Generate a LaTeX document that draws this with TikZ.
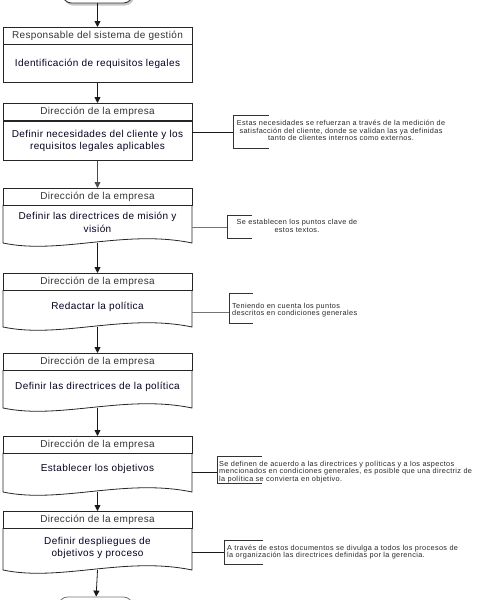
\documentclass[tikz,border=0pt]{standalone}
\usepackage{fontspec}
\setmainfont{Liberation Sans}
\newfontfamily\bodyfont[LetterSpace=4]{Liberation Sans}
\newfontfamily\hdrfont[LetterSpace=3.5]{Liberation Sans}
\newfontfamily\notefont[LetterSpace=5]{Liberation Sans}
\usetikzlibrary{arrows.meta}
\begin{document}
\begin{tikzpicture}[x=1pt,y=-1pt,
  boxline/.style={draw=black!85, line width=0.8pt},
  hdrbox/.style={boxline, minimum width=189pt, minimum height=17pt, anchor=north, inner sep=0pt,
     font=\hdrfont\fontsize{10}{11}\selectfont, text=black!80},
  bodytxt/.style={font=\bodyfont\fontsize{10}{12.8}\selectfont, align=center, text=black!85!blue, inner sep=0pt},
  notetxt/.style={font=\notefont\fontsize{7.3}{7.4}\selectfont, text=black!85, inner sep=0pt},
  flow/.style={-{Triangle[length=6pt,width=6pt]}, line width=0.8pt, draw=black!90},
  link/.style={line width=0.8pt, draw=black!90},
  bracket/.style={line width=0.8pt, draw=black!80},
  term/.style={rounded corners=9pt, minimum width=70pt, minimum height=24pt, inner sep=0pt},
]
\useasboundingbox (0,0) rectangle (481,600);

% start terminator (partially visible)
\fill[gray!45, rounded corners=9pt] (64,-20) rectangle (134,5.5);
\node[term, draw=black!80, fill=white, line width=0.8pt] (start) at (97.5,-9) {};

% ---------- Box 1
\node[hdrbox] (h1) at (97.5,27) {Responsable del sistema de gestión};
\node[boxline, minimum width=189pt, minimum height=38pt, anchor=north, bodytxt] (b1) at (97.5,44) {Identificación de requisitos legales};
\draw[flow] (start) -- (h1);

% ---------- Box 2
\node[hdrbox] (h2) at (97.5,103) {Dirección de la empresa};
\node[boxline, minimum width=189pt, minimum height=39pt, anchor=north, bodytxt] (b2) at (97.5,121) {Definir necesidades del cliente y los\\requisitos legales aplicables};
\draw[flow] (b1) -- (h2);

% ---------- Box 3
\node[hdrbox] (h3) at (97.5,188) {Dirección de la empresa};
\draw[boxline] (3,205) -- (3,243) .. controls (60,255) and (125,229) .. (192,243) -- (192,205);
\coordinate (w3) at (97.5,243);
\node[bodytxt] (b3) at (97.5,222.5) {Definir las directrices de misión y\\visión};
\draw[flow, draw=black!70] (b2) -- (h3);

% ---------- Box 4
\node[hdrbox] (h4) at (97.5,273) {Dirección de la empresa};
\draw[boxline] (3,290) -- (3,327) .. controls (60,339) and (125,313) .. (192,327) -- (192,290);
\coordinate (w4) at (97.5,327);
\node[bodytxt] (b4) at (97.5,307) {Redactar la política};
\draw[flow] (w3) -- (h4);

% ---------- Box 5
\node[hdrbox] (h5) at (97.5,353) {Dirección de la empresa};
\draw[boxline] (3,370) -- (3,408) .. controls (60,420) and (125,394) .. (192,408) -- (192,370);
\coordinate (w5) at (97.5,408);
\node[bodytxt] (b5) at (97.5,387) {Definir las directrices de la política};
\draw[flow] (w4) -- (h5);

% ---------- Box 6
\node[hdrbox] (h6) at (97.5,436) {Dirección de la empresa};
\draw[boxline] (3,453) -- (3,492) .. controls (60,504) and (125,478) .. (192,492) -- (192,453);
\coordinate (w6) at (97.5,492);
\node[bodytxt] (b6) at (97.5,469) {Establecer los objetivos};
\draw[flow] (w5) -- (h6);

% ---------- Box 7
\node[hdrbox] (h7) at (97.5,511) {Dirección de la empresa};
\draw[boxline] (3,528) -- (3,570) .. controls (60,582) and (125,556) .. (192,570) -- (192,528);
\coordinate (w7) at (97.5,570);
\node[bodytxt] (b7) at (97.5,548) {Definir despliegues de\\objetivos y proceso};
\draw[flow] (w6) -- (h7);

% end terminator (partially visible)
\node[term, draw=black!55, fill=white, line width=0.8pt, minimum width=74pt] (stop) at (95.5,609) {};
\draw[flow] (w7) -- (stop);

% ---------- Callouts
% 1
\coordinate (c1) at (233,132);
\draw[bracket] (269,115) -- (233,115) -- (233,148) -- (269,148);
\draw[link] (b2.east |- c1) -- (c1);
\node[notetxt, align=center] (n1) at (341,130.5) {Estas necesidades se refuerzan a través de la medición de\\satisfacción del cliente, donde se validan las ya definidas\\tanto de clientes internos como externos.};
% 2
\coordinate (c2) at (227,227);
\draw[bracket] (252,215) -- (227,215) -- (227,238) -- (252,238);
\draw[link, draw=black!55] (192,227) -- (c2);
\node[notetxt, align=center] (n2) at (297,226) {Se establecen los puntos clave de\\estos textos.};
% 3
\coordinate (c3) at (229,312);
\draw[bracket] (253,293) -- (229,293) -- (229,323) -- (253,323);
\draw[link, draw=black!55] (192,312) -- (c3);
\node[notetxt, align=left, anchor=west] (n3) at (232,310) {Teniendo en cuenta los puntos\\descritos en condiciones generales};
% 4
\coordinate (c4) at (217,472);
\draw[bracket] (262,456) -- (217,456) -- (217,483) -- (262,483);
\draw[link] (192,472) -- (c4);
\node[notetxt, align=left, anchor=west] (n4) at (219,472) {Se definen de acuerdo a las directrices y políticas y a los aspectos\\mencionados en condiciones generales, es posible que una directriz de\\la política se convierta en objetivo.};
% 5
\coordinate (c5) at (224,552);
\draw[bracket] (263,540) -- (224,540) -- (224,564) -- (263,564);
\draw[link] (192,552) -- (c5);
\node[notetxt, align=left, anchor=west] (n5) at (227,552) {A través de estos documentos se divulga a todos los procesos de\\la organización las directrices definidas por la gerencia.};
\end{tikzpicture}
\end{document}
